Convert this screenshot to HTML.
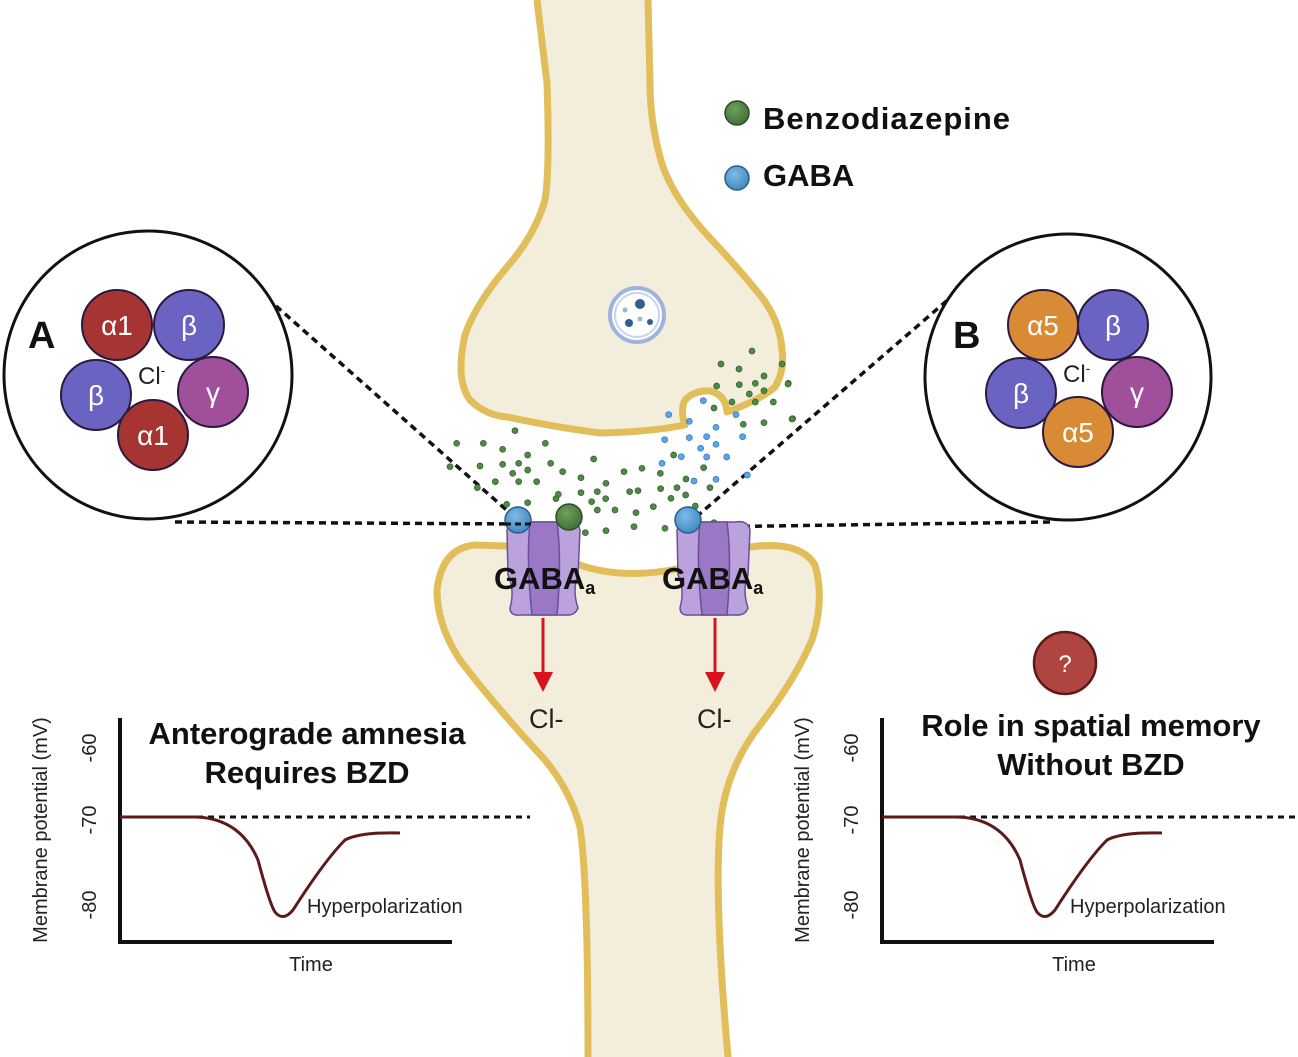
<!DOCTYPE html>
<html><head><meta charset="utf-8"><style>
html,body{margin:0;padding:0;background:#fff;}
svg{display:block;font-family:"Liberation Sans",sans-serif;}
</style></head><body>
<svg width="1298" height="1057" viewBox="0 0 1298 1057" xmlns="http://www.w3.org/2000/svg">
<defs>
<radialGradient id="gb" cx="0.4" cy="0.35" r="0.7"><stop offset="0" stop-color="#7fbbe6"/><stop offset="1" stop-color="#3f86c0"/></radialGradient>
<radialGradient id="gg" cx="0.4" cy="0.35" r="0.7"><stop offset="0" stop-color="#6fa060"/><stop offset="1" stop-color="#3d6e34"/></radialGradient>
</defs>

<!-- top neuron -->
<path d="M537,0 L547,83 Q550,170 545,200 Q535,235 507,267 Q475,305 465,335 Q455,380 470,400 Q485,415 507,417 Q560,428 600,433 Q650,432 685,425 Q680,410 685,400 Q695,390 710,391 Q726,395 727,412 Q760,400 775,387 Q785,370 782,350 Q780,320 760,295 Q740,270 710,238 Q670,195 660,157 Q650,120 650,83 L648,0" fill="#F3EEDC" stroke="#E2BE5A" stroke-width="7" stroke-linejoin="round"/>

<!-- bottom neuron -->
<path d="M588,1057 Q588,880 580,827 Q570,790 545,760 Q490,700 460,660 Q437,625 437,590 Q442,548 475,545 L507,546 L577,564 Q620,580 677,569 L750,547 Q800,540 815,565 Q825,600 812,640 Q795,680 760,725 Q725,770 720,827 Q714,900 728,1057 Z" fill="#F3EEDC" stroke="none"/>
<path d="M588,1057 Q588,880 580,827 Q570,790 545,760 Q490,700 460,660 Q437,625 437,590 Q442,548 475,545 L507,546 M577,564 Q620,580 677,569 M750,547 Q800,540 815,565 Q825,600 812,640 Q795,680 760,725 Q725,770 720,827 Q714,900 728,1057" fill="none" stroke="#E2BE5A" stroke-width="7" stroke-linecap="round"/>

<!-- vesicle -->
<circle cx="637" cy="315" r="27" fill="#fff" stroke="#9fb3dd" stroke-width="4"/>
<circle cx="637" cy="315" r="22" fill="none" stroke="#c9d4ee" stroke-width="2"/>
<circle cx="640" cy="304" r="5" fill="#2f5f8a"/><circle cx="629" cy="323" r="4" fill="#2f5f8a"/><circle cx="650" cy="322" r="3" fill="#2f5f8a"/><circle cx="625" cy="310" r="2.5" fill="#9fb8c8"/><circle cx="640" cy="319" r="2.5" fill="#9fb8c8"/>

<!-- dotted lines -->
<g stroke="#111" stroke-width="3.5" stroke-dasharray="7,5" fill="none">
<line x1="258" y1="290" x2="520" y2="522"/>
<line x1="175" y1="522" x2="520" y2="524"/>
<line x1="965" y1="285" x2="695" y2="518"/>
<line x1="1050" y1="522" x2="700" y2="527"/>
</g>

<!-- small dots -->
<g transform="translate(460,380) scale(0.3333)">
<g fill="#4f8a45" stroke="#2f5a28" stroke-width="2">
<circle cx="165" cy="152" r="9"/><circle cx="70" cy="190" r="9"/><circle cx="128" cy="208" r="9"/><circle cx="256" cy="190" r="9"/><circle cx="60" cy="258" r="9"/><circle cx="128" cy="253" r="9"/><circle cx="176" cy="250" r="9"/><circle cx="203" cy="225" r="9"/><circle cx="272" cy="250" r="9"/><circle cx="158" cy="280" r="9"/><circle cx="203" cy="270" r="9"/><circle cx="308" cy="275" r="9"/><circle cx="106" cy="305" r="9"/><circle cx="176" cy="305" r="9"/><circle cx="230" cy="305" r="9"/><circle cx="52" cy="323" r="9"/><circle cx="140" cy="373" r="9"/><circle cx="203" cy="368" r="9"/><circle cx="288" cy="356" r="9"/><circle cx="295" cy="343" r="9"/><circle cx="363" cy="293" r="9"/><circle cx="363" cy="338" r="9"/><circle cx="412" cy="335" r="9"/><circle cx="438" cy="310" r="9"/><circle cx="437" cy="356" r="9"/><circle cx="401" cy="237" r="9"/><circle cx="492" cy="275" r="9"/><circle cx="546" cy="265" r="9"/><circle cx="601" cy="280" r="9"/><circle cx="602" cy="326" r="9"/><circle cx="509" cy="335" r="9"/><circle cx="534" cy="332" r="9"/><circle cx="395" cy="365" r="9"/><circle cx="412" cy="390" r="9"/><circle cx="465" cy="390" r="9"/><circle cx="528" cy="398" r="9"/><circle cx="580" cy="380" r="9"/><circle cx="522" cy="440" r="9"/><circle cx="438" cy="452" r="9"/><circle cx="376" cy="458" r="9"/><circle cx="633" cy="355" r="9"/><circle cx="651" cy="323" r="9"/><circle cx="677" cy="345" r="9"/><circle cx="678" cy="297" r="9"/><circle cx="641" cy="225" r="9"/><circle cx="731" cy="263" r="9"/><circle cx="750" cy="323" r="9"/><circle cx="706" cy="378" r="9"/><circle cx="762" cy="428" r="9"/><circle cx="615" cy="445" r="9"/><circle cx="770" cy="18" r="9"/><circle cx="838" cy="14" r="9"/><circle cx="886" cy="10" r="9"/><circle cx="868" cy="42" r="9"/><circle cx="912" cy="32" r="9"/><circle cx="816" cy="66" r="9"/><circle cx="886" cy="66" r="9"/><circle cx="940" cy="66" r="9"/><circle cx="762" cy="84" r="9"/><circle cx="850" cy="133" r="9"/><circle cx="912" cy="128" r="9"/><circle cx="985" cy="10" r="9"/><circle cx="998" cy="116" r="9"/><circle cx="-30" cy="260" r="9"/><circle cx="-10" cy="190" r="9"/>
</g>
<g fill="#5aa6ee" stroke="#2f6fb8" stroke-width="2">
<circle cx="626" cy="104" r="9"/><circle cx="730" cy="62" r="9"/><circle cx="828" cy="104" r="9"/><circle cx="688" cy="124" r="9"/><circle cx="768" cy="142" r="9"/><circle cx="614" cy="179" r="9"/><circle cx="688" cy="173" r="9"/><circle cx="740" cy="170" r="9"/><circle cx="848" cy="170" r="9"/><circle cx="722" cy="205" r="9"/><circle cx="768" cy="193" r="9"/><circle cx="606" cy="250" r="9"/><circle cx="664" cy="230" r="9"/><circle cx="740" cy="231" r="9"/><circle cx="800" cy="231" r="9"/><circle cx="702" cy="303" r="9"/><circle cx="768" cy="298" r="9"/><circle cx="862" cy="285" r="9"/>
</g>
</g>
<g fill="#4f8a45" stroke="#2f5a28" stroke-width="0.7">
<circle cx="752" cy="351" r="3"/><circle cx="721" cy="364" r="3"/><circle cx="739" cy="369" r="3"/><circle cx="782" cy="364" r="3"/><circle cx="764" cy="376" r="3"/><circle cx="788" cy="384" r="3"/><circle cx="792" cy="419" r="3"/>
</g>

<!-- receptors -->
<g stroke="#6a4e9a" stroke-width="1.5">
<path d="M507,530 Q512,520 525,522 L565,522 Q578,520 580,530 L578,575 Q572,590 578,608 Q575,616 565,615 L520,615 Q510,616 510,608 Q515,590 508,575 Z" fill="#bca2dd"/>
<path d="M530,522 L557,522 Q562,560 557,615 L532,615 Q526,560 530,522 Z" fill="#9a78c6"/>
<path d="M677,530 Q682,520 695,522 L735,522 Q748,520 750,530 L748,575 Q742,590 748,608 Q745,616 735,615 L690,615 Q680,616 680,608 Q685,590 678,575 Z" fill="#bca2dd"/>
<path d="M700,522 L727,522 Q732,560 727,615 L702,615 Q696,560 700,522 Z" fill="#9a78c6"/>
</g>
<circle cx="518" cy="520" r="13" fill="url(#gb)" stroke="#2c5f8c" stroke-width="1.5"/>
<circle cx="569" cy="517" r="13" fill="url(#gg)" stroke="#2c4f26" stroke-width="1.5"/>
<circle cx="688" cy="520" r="13" fill="url(#gb)" stroke="#2c5f8c" stroke-width="1.5"/>
<line x1="505" y1="524" x2="531" y2="524" stroke="#111" stroke-width="3" stroke-dasharray="6,4"/>
<g font-weight="bold" fill="#111" font-size="31">
<text x="494" y="589">GABA<tspan font-size="18" dy="5">a</tspan></text>
<text x="662" y="589">GABA<tspan font-size="18" dy="5">a</tspan></text>
</g>

<!-- red arrows -->
<g stroke="#d7141e" stroke-width="3"><line x1="543" y1="618" x2="543" y2="675"/><line x1="715" y1="618" x2="715" y2="675"/></g>
<path d="M533,672 L553,672 L543,692 Z M705,672 L725,672 L715,692 Z" fill="#d7141e"/>
<text x="529" y="728" font-size="27" fill="#222">Cl-</text>
<text x="697" y="728" font-size="27" fill="#222">Cl-</text>

<!-- legend -->
<circle cx="737" cy="113" r="12" fill="url(#gg)" stroke="#2c4f26" stroke-width="1.5"/>
<circle cx="737" cy="178" r="12" fill="url(#gb)" stroke="#2c5f8c" stroke-width="1.5"/>
<text x="763" y="129" font-size="31" font-weight="bold" fill="#111" textLength="247">Benzodiazepine</text>
<text x="763" y="186" font-size="31" font-weight="bold" fill="#111">GABA</text>

<!-- circle A -->
<circle cx="148" cy="375" r="144" fill="#fff" stroke="#111" stroke-width="3"/>
<text x="28" y="348" font-size="38" font-weight="bold" fill="#111">A</text>
<g stroke="#2a1a40" stroke-width="2">
<circle cx="117" cy="325" r="35" fill="#a63432"/><circle cx="189" cy="325" r="35" fill="#6b63c2"/><circle cx="96" cy="395" r="35" fill="#6b63c2"/><circle cx="213" cy="392" r="35" fill="#a0509a"/><circle cx="153" cy="435" r="35" fill="#a63432"/>
</g>
<g fill="#fff" font-size="28" text-anchor="middle">
<text x="117" y="335">α1</text><text x="189" y="335">β</text><text x="96" y="405">β</text><text x="213" y="402">γ</text><text x="153" y="445">α1</text>
</g>
<text x="138" y="384" font-size="24" fill="#222">Cl<tspan font-size="14" dy="-9">-</tspan></text>

<!-- circle B -->
<circle cx="1068" cy="377" r="143" fill="#fff" stroke="#111" stroke-width="3"/>
<text x="953" y="348" font-size="38" font-weight="bold" fill="#111">B</text>
<g stroke="#2a1a40" stroke-width="2">
<circle cx="1043" cy="325" r="35" fill="#d98a35"/><circle cx="1113" cy="325" r="35" fill="#6b63c2"/><circle cx="1021" cy="393" r="35" fill="#6b63c2"/><circle cx="1137" cy="392" r="35" fill="#a0509a"/><circle cx="1078" cy="432" r="35" fill="#d98a35"/>
</g>
<g fill="#fff" font-size="28" text-anchor="middle">
<text x="1043" y="335">α5</text><text x="1113" y="335">β</text><text x="1021" y="403">β</text><text x="1137" y="402">γ</text><text x="1078" y="442">α5</text>
</g>
<text x="1063" y="382" font-size="24" fill="#222">Cl<tspan font-size="14" dy="-9">-</tspan></text>

<!-- left graph -->
<g>
<path d="M120,718 L120,942 L452,942" fill="none" stroke="#111" stroke-width="4"/>
<line x1="120" y1="817" x2="530" y2="817" stroke="#111" stroke-width="3" stroke-dasharray="6,5"/>
<path d="M120,817 L195,817 Q240,818 258,860 Q270,905 275,912 Q283,922 293,910 Q325,860 345,840 Q360,832 400,833" fill="none" stroke="#5c1a1a" stroke-width="3"/>
<g font-size="20" fill="#222" text-anchor="middle">
<text transform="translate(96,748) rotate(-90)">-60</text>
<text transform="translate(96,820) rotate(-90)">-70</text>
<text transform="translate(96,905) rotate(-90)">-80</text>
<text transform="translate(47,830) rotate(-90)">Membrane potential (mV)</text>
<text x="311" y="971">Time</text>
</g>
<text x="307" y="913" font-size="20" fill="#222">Hyperpolarization</text>
<g font-size="31" font-weight="bold" fill="#111" text-anchor="middle">
<text x="307" y="744">Anterograde amnesia</text>
<text x="307" y="783">Requires BZD</text>
</g>
</g>

<!-- right graph -->
<g>
<path d="M882,718 L882,942 L1214,942" fill="none" stroke="#111" stroke-width="4"/>
<line x1="882" y1="817" x2="1296" y2="817" stroke="#111" stroke-width="3" stroke-dasharray="6,5"/>
<path d="M882,817 L957,817 Q1002,818 1020,860 Q1032,905 1037,912 Q1045,922 1055,910 Q1087,860 1107,840 Q1122,832 1162,833" fill="none" stroke="#5c1a1a" stroke-width="3"/>
<g font-size="20" fill="#222" text-anchor="middle">
<text transform="translate(858,748) rotate(-90)">-60</text>
<text transform="translate(858,820) rotate(-90)">-70</text>
<text transform="translate(858,905) rotate(-90)">-80</text>
<text transform="translate(809,830) rotate(-90)">Membrane potential (mV)</text>
<text x="1074" y="971">Time</text>
</g>
<text x="1070" y="913" font-size="20" fill="#222">Hyperpolarization</text>
<g font-size="31" font-weight="bold" fill="#111" text-anchor="middle">
<text x="1091" y="736">Role in spatial memory</text>
<text x="1091" y="775">Without BZD</text>
</g>
<circle cx="1065" cy="663" r="31" fill="#b04440" stroke="#5a1a18" stroke-width="2.5"/>
<text x="1065" y="672" font-size="24" fill="#fff" text-anchor="middle">?</text>
</g>
</svg>
</body></html>
